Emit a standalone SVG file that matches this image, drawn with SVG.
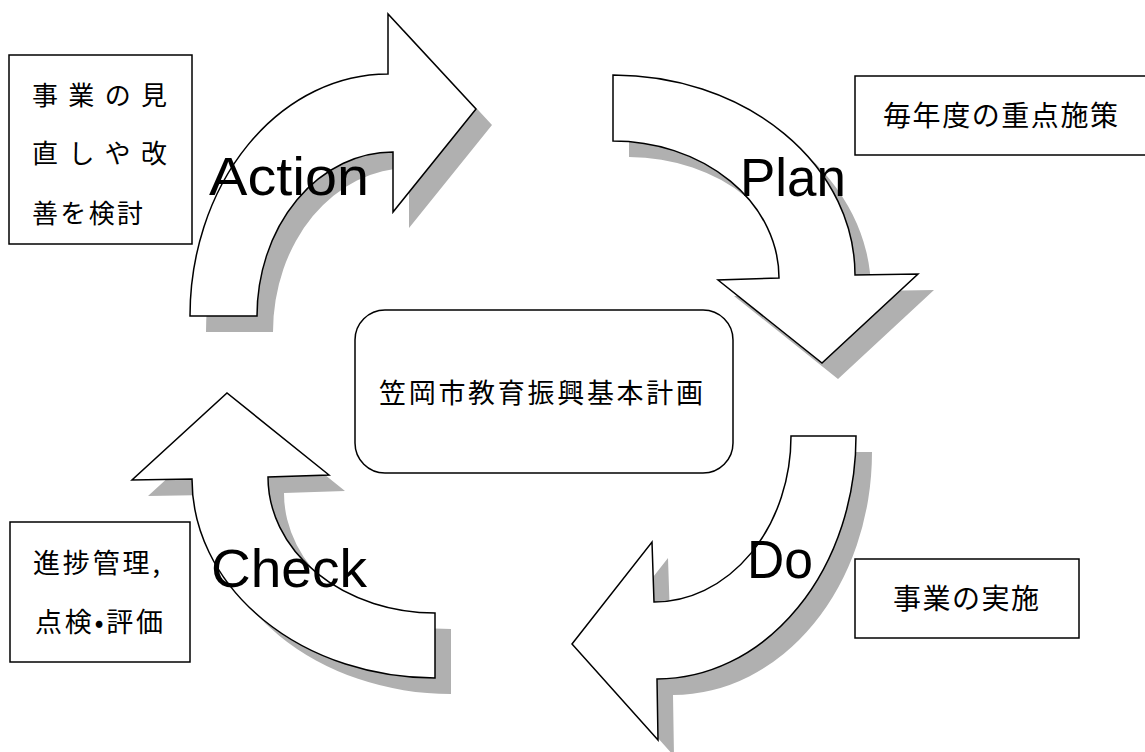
<svg xmlns="http://www.w3.org/2000/svg" width="1145" height="752" viewBox="0 0 1145 752">
<style>
.arrow{fill:#ffffff;stroke:#000;stroke-width:1.5;stroke-linejoin:miter}
.shadow{fill:#b0b0b0;stroke:none}
.box{fill:#ffffff;stroke:#000;stroke-width:1.5}
.lbl{font-family:"Liberation Sans",Arial,sans-serif;font-size:53px;fill:#000}
.jp{font-family:"Noto Sans CJK JP","Noto Sans CJK SC",sans-serif;fill:#000}
</style>
<defs>
<path id="pAction" d="M190,316 A198,242 0 0 1 388,74 L388,14 L476,109 L393,212 L393,152 A136,164 0 0 0 257,316 Z"/>
<path id="pPlan" d="M613,75 A242,200 0 0 1 855,275 L918,274 L822,363 L718,280 L779,278 A166,137 0 0 0 613,141 Z"/>
<path id="pDo" d="M856,436 A199,243 0 0 1 657,679 L658,740 L572,644 L652,542 L654,602 A137,166 0 0 0 791,436 Z"/>
<path id="pCheck" d="M435,678 A243,199 0 0 1 192,479 L132,480 L227,393 L329,475 L268,477 A167,136 0 0 0 435,613 Z"/>
</defs>
<rect width="1145" height="752" fill="#ffffff"/>
<g id="connectors">
<g id="arrow-action">
<use href="#pAction" class="shadow" transform="translate(16,16)"/>
<use href="#pAction" class="arrow"/>
</g>
<g id="arrow-plan">
<use href="#pPlan" class="shadow" transform="translate(16,16)"/>
<use href="#pPlan" class="arrow"/>
</g>
<g id="arrow-do">
<use href="#pDo" class="shadow" transform="translate(16,16)"/>
<use href="#pDo" class="arrow"/>
</g>
<g id="arrow-check">
<use href="#pCheck" class="shadow" transform="translate(16,16)"/>
<use href="#pCheck" class="arrow"/>
</g>
<text class="lbl" x="209" y="195" textLength="160" lengthAdjust="spacingAndGlyphs">Action</text>
<text class="lbl" x="740" y="196" textLength="106" lengthAdjust="spacingAndGlyphs">Plan</text>
<text class="lbl" x="747" y="578" textLength="66" lengthAdjust="spacingAndGlyphs">Do</text>
<text class="lbl" x="211" y="587" textLength="156" lengthAdjust="spacingAndGlyphs">Check</text>
</g>
<g id="node-center">
<rect class="box" x="355" y="310" width="378" height="163" rx="30" ry="30"/>
<text class="jp" x="379" y="403" font-size="27" textLength="324" lengthAdjust="spacing">笠岡市教育振興基本計画</text>
</g>
<g id="node-action-note">
<rect class="box" x="9" y="55" width="183" height="189"/>
<text class="jp" x="32" y="105" font-size="26" textLength="135" lengthAdjust="spacing">事業の見</text>
<text class="jp" x="32" y="163" font-size="26" textLength="135" lengthAdjust="spacing">直しや改</text>
<text class="jp" x="32" y="223" font-size="26" textLength="111" lengthAdjust="spacing">善を検討</text>
</g>
<g id="node-plan-note">
<rect class="box" x="855" y="76" width="300" height="79"/>
<text class="jp" x="883" y="126" font-size="28" textLength="235" lengthAdjust="spacing">毎年度の重点施策</text>
</g>
<g id="node-do-note">
<rect class="box" x="855" y="559" width="224" height="79"/>
<text class="jp" x="893" y="609" font-size="28" textLength="146" lengthAdjust="spacing">事業の実施</text>
</g>
<g id="node-check-note">
<rect class="box" x="10" y="522" width="180" height="140"/>
<text class="jp" x="33" y="573" font-size="27" textLength="127" lengthAdjust="spacing">進捗管理,</text>
<text class="jp" x="35" y="632" font-size="27" textLength="128" lengthAdjust="spacing">点検•評価</text>
</g>
</svg>
